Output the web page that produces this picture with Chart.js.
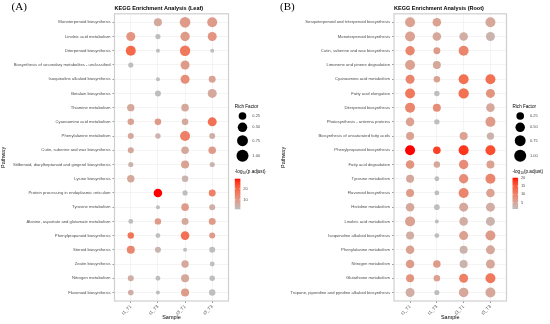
<!DOCTYPE html>
<html>
<head>
<meta charset="utf-8">
<script src="https://cdn.jsdelivr.net/npm/chart.js@4.4.1/dist/chart.umd.min.js"></script>
<style>
html,body{margin:0;padding:0;background:#fff;}
#wrap{position:relative;width:550px;height:324px;overflow:hidden;background:#fff;}
canvas{position:absolute;top:0;}
#leafChart{left:0;}
#rootChart{left:275px;}
</style>
</head>
<body>
<div id="wrap">
<canvas id="leafChart" width="275" height="324"></canvas>
<canvas id="rootChart" width="275" height="324"></canvas>
</div>
<script>
const FONT = '"Liberation Sans", Arial, Helvetica, sans-serif';

const SAMPLES = ["t1_T1", "t1_T3", "t3_T1", "t3_T3"];

const LEAF_PATHWAYS = [
    "Monoterpenoid biosynthesis",
    "Linoleic acid metabolism",
    "Diterpenoid biosynthesis",
    "Biosynthesis of secondary metabolites - unclassified",
    "Isoquinoline alkaloid biosynthesis",
    "Betalain biosynthesis",
    "Thiamine metabolism",
    "Cyanoamino acid metabolism",
    "Phenylalanine metabolism",
    "Cutin, suberine and wax biosynthesis",
    "Stilbenoid, diarylheptanoid and gingerol biosynthesis",
    "Lysine biosynthesis",
    "Protein processing in endoplasmic reticulum",
    "Tyrosine metabolism",
    "Alanine, aspartate and glutamate metabolism",
    "Phenylpropanoid biosynthesis",
    "Steroid biosynthesis",
    "Zeatin biosynthesis",
    "Nitrogen metabolism",
    "Flavonoid biosynthesis"
];

// rich factor per pathway (rows) and sample (columns)
const LEAF_RICH = [
    [null, 0.29, 0.70, 0.58],
    [0.42, 0.07, 0.48, 0.42],
    [0.58, 0.05, 0.65, 0.05],
    [0.07, null, 0.42, null],
    [null, 0.05, 0.42, 0.18],
    [null, 0.11, null, 0.42],
    [0.22, null, 0.24, null],
    [0.14, 0.15, 0.15, 0.42],
    [0.11, 0.08, 0.58, 0.11],
    [0.11, null, 0.24, 0.24],
    [0.07, null, 0.29, 0.07],
    [0.22, null, 0.14, null],
    [null, 0.36, 0.07, 0.18],
    [null, 0.05, 0.24, 0.11],
    [0.06, 0.14, 0.18, 0.18],
    [0.14, 0.06, 0.36, 0.11],
    [0.29, 0.11, 0.05, 0.11],
    [null, null, 0.22, 0.06],
    [0.11, 0.06, 0.29, 0.08],
    [0.09, 0.05, 0.29, 0.14]
];

// -log10(p.adjust)
const LEAF_LOGP = [
    [null, 6.6, 9.4, 9.4],
    [10.8, 1.5, 9.4, 10.8],
    [19.5, 1.5, 16.4, 1.5],
    [1.5, null, 9.4, null],
    [null, 1.5, 12.2, 8.0],
    [null, 1.5, null, 6.6],
    [6.6, null, 6.6, null],
    [8.0, 9.4, 6.6, 17.8],
    [6.6, 3.8, 15.0, 5.2],
    [6.6, null, 6.6, 9.4],
    [3.8, null, 8.0, 3.8],
    [6.6, null, 3.8, null],
    [null, 29.0, 1.5, 15.0],
    [null, 1.5, 9.4, 5.2],
    [1.5, 9.4, 6.6, 9.4],
    [17.0, 1.5, 17.8, 9.4],
    [13.6, 3.8, 1.5, 1.5],
    [null, null, 6.6, 1.5],
    [5.2, 1.5, 6.6, 1.5],
    [5.2, 1.5, 9.4, 1.5]
];

const ROOT_PATHWAYS = [
    "Sesquiterpenoid and triterpenoid biosynthesis",
    "Monoterpenoid biosynthesis",
    "Cutin, suberine and wax biosynthesis",
    "Limonene and pinene degradation",
    "Cyanoamino acid metabolism",
    "Fatty acid elongation",
    "Diterpenoid biosynthesis",
    "Photosynthesis - antenna proteins",
    "Biosynthesis of unsaturated fatty acids",
    "Phenylpropanoid biosynthesis",
    "Fatty acid degradation",
    "Tyrosine metabolism",
    "Flavonoid biosynthesis",
    "Histidine metabolism",
    "Linoleic acid metabolism",
    "Isoquinoline alkaloid biosynthesis",
    "Phenylalanine metabolism",
    "Nitrogen metabolism",
    "Glutathione metabolism",
    "Tropane, piperidine and pyridine alkaloid biosynthesis"
];

const ROOT_RICH = [
    [0.58, 0.36, null, 0.58],
    [0.58, 0.36, 0.36, 0.42],
    [0.48, 0.18, 0.58, null],
    [0.58, 0.29, null, null],
    [0.42, 0.14, 0.58, 0.58],
    [0.58, 0.08, 0.65, 0.42],
    [0.58, 0.29, null, 0.36],
    [0.36, 0.08, null, 0.58],
    [0.29, null, 0.29, 0.22],
    [0.58, 0.24, 0.58, 0.58],
    [0.36, 0.14, 0.48, 0.29],
    [0.29, 0.06, 0.48, 0.58],
    [0.29, 0.06, 0.58, 0.36],
    [0.36, 0.09, 0.42, 0.42],
    [0.58, 0.05, 0.36, 0.42],
    [0.29, 0.06, 0.42, 0.58],
    [0.36, null, 0.29, 0.42],
    [0.36, 0.24, 0.29, 0.42],
    [0.29, 0.15, 0.42, 0.58],
    [0.42, 0.07, 0.52, 0.58]
];

const ROOT_LOGP = [
    [5.8, 5.8, null, 4.8],
    [5.8, 4.8, 3.9, 2.9],
    [9.6, 6.7, 9.6, null],
    [5.8, 4.8, null, null],
    [9.6, 5.8, 12.4, 12.4],
    [11.5, 1.2, 12.4, 7.7],
    [9.6, 8.6, null, 4.8],
    [5.8, 1.2, null, 6.7],
    [5.8, null, 5.8, 2.9],
    [20.0, 17.2, 18.1, 16.2],
    [7.7, 4.8, 8.6, 5.8],
    [4.8, 1.2, 8.6, 9.6],
    [6.7, 1.2, 9.6, 5.8],
    [4.8, 1.2, 4.8, 3.9],
    [5.8, 1.2, 3.9, 2.9],
    [3.9, 1.2, 5.8, 6.7],
    [5.8, null, 2.9, 4.8],
    [6.7, 6.7, 2.9, 4.8],
    [7.7, 5.8, 10.5, 11.5],
    [3.9, 1.2, 4.8, 4.8]
];

const RICH_BREAKS = [0.25, 0.50, 0.75, 1.00];
const LEAF_COLOR_BREAKS = [10, 20];
const ROOT_COLOR_BREAKS = [5, 10, 15, 20];

// size scale: area-like mapping, like ggplot's scale_size
function radiusOf(v){
    return 2 + 4 * Math.sqrt(Math.max(0, (v - 0.05) / 0.95));
}

// grey -> red gradient interpolated in Lab space
function toLin(c){ c /= 255; return c <= 0.04045 ? c / 12.92 : Math.pow((c + 0.055) / 1.055, 2.4); }
function toSrgb(c){
    c = c <= 0.0031308 ? 12.92 * c : 1.055 * Math.pow(c, 1 / 2.4) - 0.055;
    return Math.round(Math.min(1, Math.max(0, c)) * 255);
}
function rgbToLab(rgb){
    const [r, g, b] = rgb.map(toLin);
    const x = (0.4124 * r + 0.3576 * g + 0.1805 * b) / 0.95047;
    const y = (0.2126 * r + 0.7152 * g + 0.0722 * b);
    const z = (0.0193 * r + 0.1192 * g + 0.9505 * b) / 1.08883;
    const f = t => t > 0.008856 ? Math.cbrt(t) : 7.787 * t + 16 / 116;
    const fx = f(x), fy = f(y), fz = f(z);
    return [116 * fy - 16, 500 * (fx - fy), 200 * (fy - fz)];
}
function labToRgb(lab){
    const fy = (lab[0] + 16) / 116, fx = fy + lab[1] / 500, fz = fy - lab[2] / 200;
    const inv = t => t * t * t > 0.008856 ? t * t * t : (t - 16 / 116) / 7.787;
    const x = inv(fx) * 0.95047, y = inv(fy), z = inv(fz) * 1.08883;
    const r = 3.2406 * x - 1.5372 * y - 0.4986 * z;
    const g = -0.9689 * x + 1.8758 * y + 0.0415 * z;
    const b = 0.0557 * x - 0.2040 * y + 1.0570 * z;
    return [toSrgb(r), toSrgb(g), toSrgb(b)];
}
const LOW_LAB = rgbToLab([190, 190, 190]);
const HIGH_LAB = rgbToLab([255, 0, 0]);
function colorAt(t){
    t = Math.min(1, Math.max(0, t));
    const lab = LOW_LAB.map((v, i) => v + (HIGH_LAB[i] - v) * t);
    const c = labToRgb(lab);
    return `rgb(${c[0]},${c[1]},${c[2]})`;
}

function dataRange(table){
    const vals = table.flat().filter(v => v !== null);
    return [Math.min(...vals), Math.max(...vals)];
}

function decorPlugin(cfg, lo, hi){
    return {
        id: "decor",
        afterDraw(chart){
            const ctx = chart.ctx;
            const a = chart.chartArea;
            ctx.save();

            ctx.strokeStyle = "#cfcfcf";
            ctx.lineWidth = 1.2;
            ctx.strokeRect(a.left, a.top, a.right - a.left, a.bottom - a.top);

            ctx.fillStyle = "#000";
            ctx.textBaseline = "middle";
            ctx.textAlign = "left";
            ctx.font = '11px "Liberation Serif", "Times New Roman", serif';
            ctx.fillText(cfg.letter, cfg.letterX, 7);

            ctx.font = "bold 5.5px " + FONT;
            ctx.fillText(cfg.title, a.left, 8);

            // size legend
            const lx = cfg.legendX;
            ctx.font = "4.6px " + FONT;
            ctx.fillText("Rich Factor", lx, 106.7);
            const keyY = [116, 127.3, 140.7, 155.7];
            RICH_BREAKS.forEach((b, i) => {
                ctx.fillStyle = "#000";
                ctx.beginPath();
                ctx.arc(lx + 7.7, keyY[i], radiusOf(b), 0, Math.PI * 2);
                ctx.fill();
                ctx.fillStyle = "#4d4d4d";
                ctx.font = "4px " + FONT;
                ctx.fillText(b.toFixed(2), lx + 17.5, keyY[i]);
            });

            // colour legend
            const ty = 171.5;
            let x = lx;
            ctx.fillStyle = "#000";
            ctx.font = "4.6px " + FONT;
            ctx.fillText("-log", x, ty);
            x += ctx.measureText("-log").width;
            ctx.font = "3.2px " + FONT;
            ctx.fillText("10", x, ty + 1.3);
            x += ctx.measureText("10").width + 0.3;
            ctx.font = "4.6px " + FONT;
            ctx.fillText("(p.adjust)", x, ty);

            const barTop = cfg.barTop, barBottom = cfg.barBottom, barW = 5.6;
            const grad = ctx.createLinearGradient(0, barBottom, 0, barTop);
            for(let i = 0; i <= 20; i++){
                grad.addColorStop(i / 20, colorAt(i / 20));
            }
            ctx.fillStyle = grad;
            ctx.fillRect(lx, barTop, barW, barBottom - barTop);

            ctx.font = "4px " + FONT;
            cfg.colorBreaks.forEach(b => {
                const y = barBottom - (b - lo) / (hi - lo) * (barBottom - barTop);
                ctx.strokeStyle = "#fff";
                ctx.lineWidth = 0.5;
                ctx.beginPath();
                ctx.moveTo(lx, y); ctx.lineTo(lx + 1.2, y);
                ctx.moveTo(lx + barW - 1.2, y); ctx.lineTo(lx + barW, y);
                ctx.stroke();
                ctx.fillStyle = "#4d4d4d";
                ctx.fillText(String(b), lx + barW + 2.8, y);
            });

            ctx.restore();
        }
    };
}

function makePanel(id, cfg){
    const [lo, hi] = dataRange(cfg.logp);
    const points = [];
    const colors = [];
    cfg.rich.forEach((row, i) => {
        row.forEach((v, j) => {
            if(v === null) return;
            points.push({x: j, y: i, r: radiusOf(v)});
            colors.push(colorAt((cfg.logp[i][j] - lo) / (hi - lo)));
        });
    });

    const gridOpts = {
        color: "#ececec",
        lineWidth: 0.6,
        tickLength: 2,
        tickColor: "#555",
        tickWidth: 0.6
    };

    return new Chart(document.getElementById(id).getContext("2d"), {
        type: "bubble",
        data: {
            datasets: [{
                data: points,
                backgroundColor: colors,
                borderWidth: 0,
                hoverBorderWidth: 0
            }]
        },
        options: {
            responsive: false,
            animation: false,
            events: [],
            layout: {
                padding: {left: 0, top: 13.8, right: cfg.padRight, bottom: 0}
            },
            plugins: {
                legend: {display: false},
                tooltip: {enabled: false}
            },
            scales: {
                x: {
                    type: "linear",
                    min: -0.6,
                    max: SAMPLES.length - 0.4,
                    afterFit(scale){ scale.height = 23; },
                    ticks: {
                        stepSize: 1,
                        includeBounds: false,
                        autoSkip: false,
                        minRotation: 45,
                        maxRotation: 45,
                        padding: 1,
                        color: "#4d4d4d",
                        font: {family: FONT, size: 4.5},
                        callback: v => Number.isInteger(v) ? SAMPLES[v] : ""
                    },
                    grid: gridOpts,
                    border: {display: false},
                    title: {
                        display: true,
                        text: "Sample",
                        color: "#000",
                        font: {family: FONT, size: 5.5},
                        padding: {top: 0, bottom: 3}
                    }
                },
                y: {
                    type: "linear",
                    reverse: true,
                    min: -0.6,
                    max: cfg.pathways.length - 0.4,
                    afterFit(scale){ scale.width = cfg.axisWidth; },
                    ticks: {
                        stepSize: 1,
                        includeBounds: false,
                        autoSkip: false,
                        padding: 2,
                        color: "#4d4d4d",
                        font: {family: FONT, size: 4.2},
                        callback: v => Number.isInteger(v) ? cfg.pathways[v] : ""
                    },
                    grid: gridOpts,
                    border: {display: false},
                    title: {
                        display: true,
                        text: "Pathway",
                        color: "#000",
                        font: {family: FONT, size: 5.5},
                        padding: {top: cfg.yTitlePad, bottom: 0}
                    }
                }
            }
        },
        plugins: [decorPlugin(cfg, lo, hi)]
    });
}

makePanel("leafChart", {
    pathways: LEAF_PATHWAYS,
    rich: LEAF_RICH,
    logp: LEAF_LOGP,
    colorBreaks: LEAF_COLOR_BREAKS,
    letter: "(A)",
    letterX: 11.6,
    title: "KEGG Enrichment Analysis (Leaf)",
    axisWidth: 114.5,
    padRight: 46.5,
    yTitlePad: 0.2,
    legendX: 234.8,
    barTop: 178.7,
    barBottom: 209.3
});

makePanel("rootChart", {
    pathways: ROOT_PATHWAYS,
    rich: ROOT_RICH,
    logp: ROOT_LOGP,
    colorBreaks: ROOT_COLOR_BREAKS,
    letter: "(B)",
    letterX: 5,
    title: "KEGG Enrichment Analysis (Root)",
    axisWidth: 119,
    padRight: 43.5,
    yTitlePad: 4.7,
    legendX: 237.5,
    barTop: 177.7,
    barBottom: 209
});
</script>
</body>
</html>
